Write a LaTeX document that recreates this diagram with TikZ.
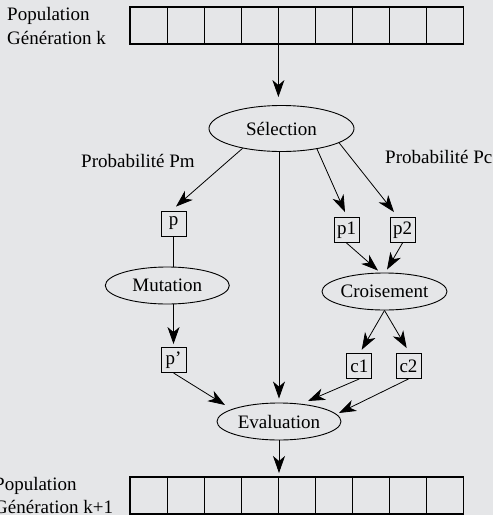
\documentclass[tikz,border=0pt]{standalone}
\usepackage{fontspec}
\setmainfont{Liberation Serif}
\usetikzlibrary{arrows.meta,shapes.geometric,calc}
\definecolor{bgpaper}{RGB}{229,230,232}
\begin{document}
\begin{tikzpicture}[x=1pt,y=-1pt,
  every node/.style={font=\fontsize{19}{23}\selectfont},
  cell/.style={draw,line width=1.1pt,minimum width=37.1pt,minimum height=37pt,inner sep=0pt,outer sep=0pt},
  indiv/.style={draw,line width=0.9pt,minimum size=25pt,inner sep=0pt},
  oper/.style={draw,ellipse,line width=0.9pt,inner sep=0pt},
  link/.style={line width=0.8pt},
  flow/.style={link,-{Stealth[length=17pt,width=12pt,inset=5pt]}},
  lbl/.style={inner sep=0pt,anchor=base west}]
% page background
\fill[bgpaper] (0,0) rectangle (493,515);
\useasboundingbox (0,0) rectangle (493,515);

% population arrays (generation k at the top, k+1 at the bottom)
\foreach \i in {1,...,9} {
  \node[cell] (t\i) at ({130+37.1*(\i-0.5)},25.5) {};
  \node[cell] (b\i) at ({130+37.1*(\i-0.5)},495.5) {};
}
\node[lbl] (popk)  at (7,20)   {Population};
\node[lbl] (genk)  at (7,44)   {Génération k};
\node[lbl] (popk1) at (-6,490) {Population};
\node[lbl] (genk1) at (-6,513) {Génération k+1};

% probability labels
\node[lbl] (pm) at (81,167)  {Probabilité Pm};
\node[lbl] (pc) at (385,163) {Probabilité Pc};

% genetic operators
\node[oper,minimum width=145pt,minimum height=46pt] (sel) at (281.5,128.5) {Sélection};
\node[oper,minimum width=124pt,minimum height=37pt] (mut) at (167.3,285.5) {Mutation};
\node[oper,minimum width=125pt,minimum height=37pt] (cro) at (384.5,291.5) {Croisement};
\node[oper,minimum width=124pt,minimum height=37pt] (eva) at (279,421.5) {Evaluation};

% individuals
\node[indiv] (p)  at (173.5,223.5) {p};
\node[indiv] (pp) at (173.5,360)   {p'};
\node[indiv] (p1) at (346.5,230)   {p1};
\node[indiv] (p2) at (402.5,230)   {p2};
\node[indiv] (c1) at (359.3,366)   {c1};
\node[indiv] (c2) at (408.5,366)   {c2};

% flow
\draw[flow] (t4.south east) -- ($(sel.north -| t4.south east)+(0,-8)$);
\draw[flow] (sel.207) -- ($(p.north)+(2.5,-4)$);
\draw[flow] (sel.-30) -- ($(p1.north)+(-1.5,-5)$);
\draw[flow] (sel.-14) -- ($(p2.north)+(-8.5,-5)$);
\draw[flow] (sel.south -| eva.north) -- ($(eva.north)+(0,-4)$);
\draw[link] (p.south) -- (p.south |- mut.north);
\draw[flow] (mut.south -| p.south) -- ($(pp.north)+(0,-3)$);
\draw[flow] (p1.south) -- ($(cro.north)+(-6.5,-2)$);
\draw[flow] (p2.south) -- ($(cro.north)+(2.5,-3)$);
\draw[flow] (cro.south) -- ($(c1.north)+(2.4,-3.3)$);
\draw[flow] (cro.south) -- ($(c2.north)+(-1.8,-5)$);
\draw[flow] (pp.south) -- ($(eva)+(-54,-16.5)$);
\draw[flow] (c1.south) -- ($(eva)+(29,-20.5)$);
\draw[flow] (c2.south) -- ($(eva)+(60,-8.5)$);
\draw[flow] (eva.south) -- ($(eva.south |- b5.north)+(0,-4)$);
\end{tikzpicture}
\end{document}
